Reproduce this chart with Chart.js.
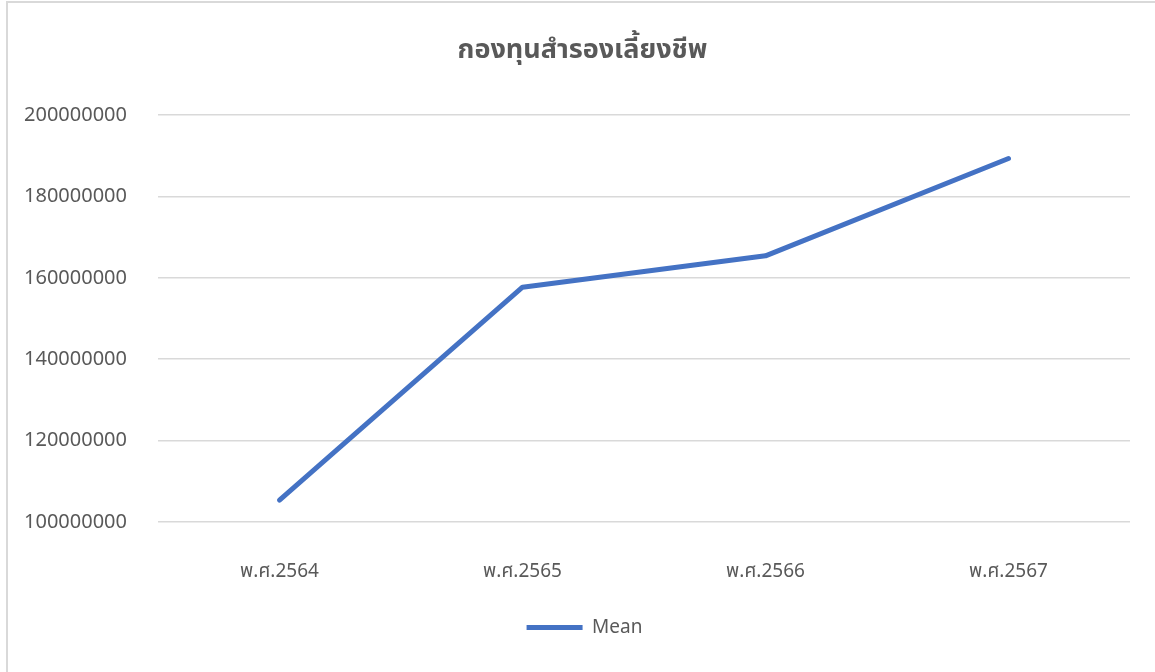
<!DOCTYPE html>
<html>
<head>
<meta charset="utf-8">
<script src="https://cdn.jsdelivr.net/npm/chart.js@4.4.1/dist/chart.umd.min.js"></script>
<style>
  html, body { margin: 0; padding: 0; background: #fff; }
  #wrap { position: relative; width: 1155px; height: 672px; }
  #frame { position: absolute; left: 6px; top: 1px; right: -10px; bottom: -10px;
           border-left: 2px solid #d9d9d9; border-top: 2px solid #d9d9d9; pointer-events: none; }
</style>
</head>
<body>
<div id="wrap">
  <canvas id="chart" width="1155" height="672"></canvas>
  <div id="frame"></div>
</div>
<script>
// ข้อมูลจากกราฟ
const title = 'กองทุนสำรองเลี้ยงชีพ';
const years = ['พ.ศ.2564', 'พ.ศ.2565', 'พ.ศ.2566', 'พ.ศ.2567'];
const meanValues = [105400000, 157700000, 165400000, 189300000];
const yMin = 100000000;
const yMax = 200000000;
const yStep = 20000000;

const grey = '#595959';
const font = 'Noto Sans, "Noto Sans Thai", sans-serif';

// เลื่อน title กับ legend ไปทางขวาเล็กน้อยให้ตรงกับต้นฉบับ
const boxShift = {
  id: 'boxShift',
  afterLayout(chart) {
    if (chart.legend) {
      chart.legend.left += 16;
      chart.legend.right += 16;
    }
    if (chart.titleBlock) {
      chart.titleBlock.left += 14;
      chart.titleBlock.right += 14;
    }
  }
};

const ctx = document.getElementById('chart');
new Chart(ctx, {
  type: 'line',
  data: {
    labels: years,
    datasets: [{
      label: 'Mean',
      data: meanValues,
      borderColor: '#4472C4',
      backgroundColor: '#4472C4',
      borderWidth: 5,
      borderCapStyle: 'round',
      borderJoinStyle: 'round',
      pointRadius: 0,
      pointHoverRadius: 0,
      tension: 0
    }]
  },
  plugins: [boxShift],
  options: {
    responsive: false,
    animation: false,
    layout: { padding: { left: 7, right: 25, top: 0, bottom: 25 } },
    plugins: {
      title: {
        display: true,
        text: title,
        color: grey,
        font: { family: font, size: 27, weight: 'bold', lineHeight: 1.2 },
        padding: { top: 34, bottom: 48.6 }
      },
      legend: {
        position: 'bottom',
        labels: {
          color: grey,
          font: { family: font, size: 19 },
          usePointStyle: true,
          pointStyle: 'line',
          pointStyleWidth: 56,
          padding: 10
        }
      },
      tooltip: { enabled: false }
    },
    scales: {
      x: {
        offset: true,
        grid: { display: false },
        border: { display: false },
        ticks: { color: grey, font: { family: font, size: 19 }, padding: 30 },
        afterFit: (scale) => { scale.height = 86; }
      },
      y: {
        min: yMin,
        max: yMax,
        grid: { color: '#d9d9d9', lineWidth: 1.5, drawTicks: false },
        border: { display: false },
        ticks: {
          stepSize: yStep,
          color: grey,
          font: { family: font, size: 20 },
          padding: 31,
          callback: (v) => String(v)
        },
        afterFit: (scale) => { scale.width = 151; }
      }
    }
  }
});
</script>
</body>
</html>
